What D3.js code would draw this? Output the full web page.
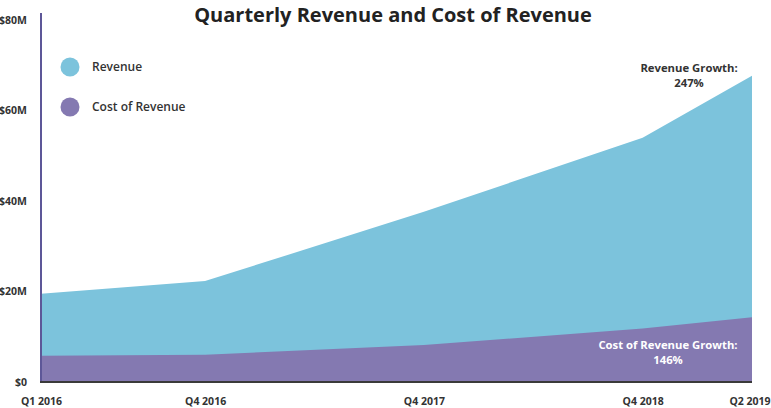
<!DOCTYPE html>
<html><head><meta charset="utf-8">
<script src="https://cdn.jsdelivr.net/npm/d3@7"></script>
<style>body{margin:0;background:#fff;}svg{display:block;font-family:"Open Sans",sans-serif;}</style>
</head><body><svg id="c" width="771" height="408"></svg>
<script>
const quarters = ["Q1 2016","Q4 2016","Q4 2017","Q4 2018","Q2 2019"];
const quarterIndex = [0, 3, 7, 11, 13];
const revenue = [19.5, 22.3, 37.6, 54.0, 67.7];
const costOfRevenue = [5.8, 6.0, 8.2, 11.8, 14.3];
const yTicks = [0, 20, 40, 60, 80];
const yTickLabels = ["$0","$20M","$40M","$60M","$80M"];
const seriesNames = ["Revenue","Cost of Revenue"];
const colors = ["#7cc3dc","#8479b1"];

const svg = d3.select("#c");
const x = d3.scaleLinear().domain([0,13]).range([41,752]);
const y = d3.scaleLinear().domain([0,80]).range([382,20]);
const data = quarters.map((q,i)=>({q, i:quarterIndex[i], rev:revenue[i], cost:costOfRevenue[i]}));

const area = key => d3.area().x(d=>x(d.i)).y0(y(0)).y1(d=>y(d[key]));
svg.append("path").datum(data).attr("d", area("rev")).attr("fill", colors[0]);
svg.append("path").datum(data).attr("d", area("cost")).attr("fill", colors[1]);

// axes
const yAxis = svg.append("g").attr("transform","translate(41,0)")
  .call(d3.axisLeft(y).tickValues(yTicks).tickSize(0).tickPadding(12).tickFormat((d,i)=>yTickLabels[i]));
yAxis.select(".domain").remove();
yAxis.selectAll("text").attr("font-family","Open Sans").attr("font-weight",700).attr("font-size",10.5).attr("fill","#333").attr("x",-14);
svg.append("line").attr("x1",41).attr("x2",41).attr("y1",13).attr("y2",383).attr("stroke","#5d5798").attr("stroke-width",2);

const xAxis = svg.append("g").attr("transform","translate(0,382)")
  .call(d3.axisBottom(x).tickValues(quarterIndex).tickSize(0).tickPadding(16).tickFormat((d,i)=>quarters[i]));
xAxis.select(".domain").remove();
xAxis.selectAll("text").attr("font-family","Open Sans").attr("font-weight",700).attr("font-size",10.5).attr("fill","#333");
xAxis.selectAll("text").filter((d,i)=>i===quarters.length-1).attr("text-anchor","end").attr("dx",18);
svg.append("line").attr("x1",40).attr("x2",752).attr("y1",382).attr("y2",382).attr("stroke","#3a3a3a").attr("stroke-width",2);

// title
svg.append("text").attr("x",393).attr("y",22).attr("text-anchor","middle")
  .attr("font-weight",700).attr("font-size",20).attr("fill","#222").text("Quarterly Revenue and Cost of Revenue");

// legend
seriesNames.forEach((n,i)=>{
  svg.append("circle").attr("cx",70).attr("cy",67+i*40).attr("r",9.5).attr("fill",colors[i]);
  svg.append("text").attr("x",92).attr("y",71+i*40).attr("font-weight",600).attr("font-size",12).attr("fill","#333").text(n);
});

// annotations
svg.append("text").attr("x",689).attr("y",72).attr("text-anchor","middle").attr("font-weight",700).attr("font-size",11.3).attr("fill","#333").text("Revenue Growth:");
svg.append("text").attr("x",689).attr("y",87).attr("text-anchor","middle").attr("font-weight",700).attr("font-size",11.3).attr("fill","#333").text("247%");
svg.append("text").attr("x",668).attr("y",349).attr("text-anchor","middle").attr("font-weight",700).attr("font-size",11.3).attr("fill","#fff").text("Cost of Revenue Growth:");
svg.append("text").attr("x",668).attr("y",364).attr("text-anchor","middle").attr("font-weight",700).attr("font-size",11.3).attr("fill","#fff").text("146%");
</script></body></html>
